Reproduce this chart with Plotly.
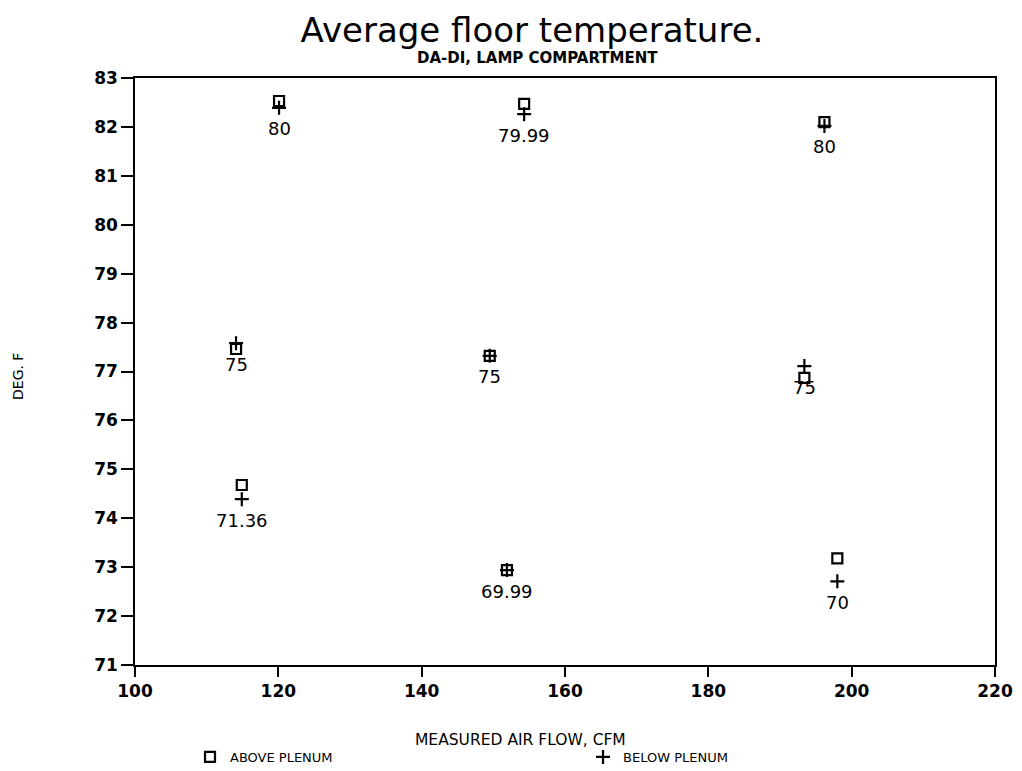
import plotly.graph_objects as go

# Data
air_flow = [120.1, 154.3, 196.2, 114.1, 149.5, 193.4, 114.9, 151.9, 198.0]
temp_above = [82.53, 82.47, 82.10, 77.46, 77.32, 76.87, 74.68, 72.94, 73.18]
temp_below = [82.39, 82.26, 82.02, 77.58, 77.32, 77.11, 74.39, 72.94, 72.71]
point_labels = ["80", "79.99", "80", "75", "75", "75", "71.36", "69.99", "70"]

x_ticks = [100, 120, 140, 160, 180, 200, 220]
y_ticks = list(range(71, 84))

FONT = "DejaVu Sans"
PH = 587.0  # plot height in px
PW = 860.0  # plot width in px
OFF = 8     # page body offset
W, H = 1022 - OFF, 771 - OFF

fig = go.Figure()
fig.add_trace(go.Scatter(
    x=air_flow, y=temp_above, mode="markers", name="ABOVE PLENUM",
    marker=dict(symbol="square-open", size=10, color="black", line=dict(width=2.2, color="black")),
))
fig.add_trace(go.Scatter(
    x=air_flow, y=temp_below, mode="markers", name="BELOW PLENUM",
    marker=dict(symbol="cross-thin-open", size=10, color="black", line=dict(width=2.2, color="black")),
))

for xv, yv, t in zip(air_flow, temp_below, point_labels):
    fig.add_annotation(x=xv, y=yv, text=t, showarrow=False, yshift=-21,
                       font=dict(family=FONT, size=18, color="black"))

fig.add_annotation(text="<b>DA-DI, LAMP COMPARTMENT</b>", xref="paper", yref="paper",
                   x=(537 - 135) / PW, y=1 + 20 / PH, xanchor="center", yanchor="middle",
                   showarrow=False, font=dict(family=FONT, size=15, color="black"))
fig.add_annotation(text="MEASURED AIR FLOW, CFM", xref="paper", yref="paper",
                   x=(520 - 135) / PW, y=-(740 - 665) / PH, xanchor="center", yanchor="middle",
                   showarrow=False, font=dict(family=FONT, size=15.5, color="black"))
fig.add_annotation(text="DEG. F", xref="paper", yref="paper", textangle=-90,
                   x=(18 - 135) / PW, y=(665 - 376) / PH, xanchor="center", yanchor="middle",
                   showarrow=False, font=dict(family=FONT, size=14, color="black"))

fig.update_layout(
    width=W, height=H,
    paper_bgcolor="white", plot_bgcolor="white",
    margin=dict(l=135 - OFF, r=27, t=78 - OFF, b=106, autoexpand=False),
    title=dict(text="Average floor temperature.", x=(532 - OFF) / W, xanchor="center",
               y=1 - (30 - OFF) / H, yanchor="middle",
               font=dict(family=FONT, size=34, color="black")),
    showlegend=True,
    legend=dict(orientation="h", x=(190 - 135) / PW, xanchor="left",
                y=-(757 - 665) / PH, yanchor="middle",
                entrywidth=348, entrywidthmode="pixels",
                font=dict(family=FONT, size=13, color="black"),
                bgcolor="rgba(0,0,0,0)"),
    xaxis=dict(range=[100, 220], tickvals=x_ticks, ticktext=[str(v) for v in x_ticks],
               showgrid=False, zeroline=False, showline=True, linecolor="black", linewidth=1.5,
               mirror=True, ticks="outside", ticklen=10, tickwidth=1.5, tickcolor="black",
               automargin=False,
               tickfont=dict(family=FONT, size=17, color="black", weight="bold")),
    yaxis=dict(range=[71, 83], tickvals=y_ticks, ticktext=[str(v) for v in y_ticks],
               showgrid=False, zeroline=False, showline=True, linecolor="black", linewidth=1.5,
               mirror=True, ticks="outside", ticklen=12, tickwidth=1.5, tickcolor="black",
               automargin=False,
               tickfont=dict(family=FONT, size=17, color="black", weight="bold")),
)

fig.write_html("out.html")
